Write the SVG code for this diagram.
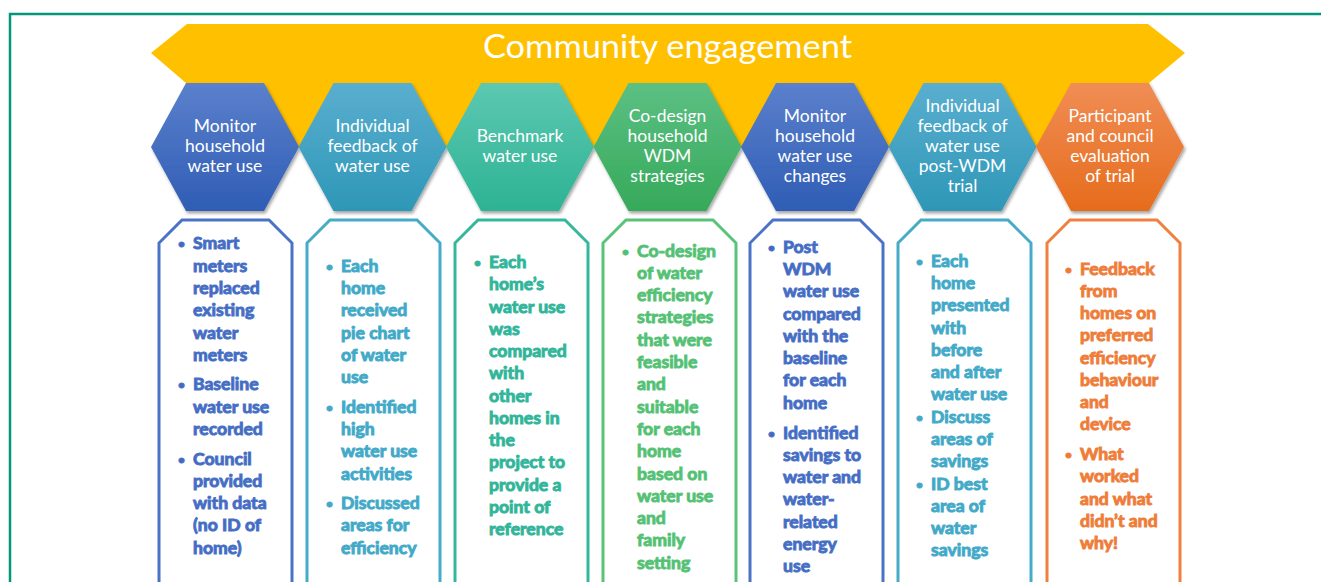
<svg xmlns="http://www.w3.org/2000/svg" width="1321" height="582" viewBox="0 0 1321 582">
  <defs>
    <linearGradient id="g-blue" x1="0" y1="0" x2="0" y2="1">
      <stop offset="0" stop-color="#5b80cc"/>
      <stop offset="1" stop-color="#2f5db5"/>
    </linearGradient>
    <linearGradient id="g-aqua" x1="0" y1="0" x2="0" y2="1">
      <stop offset="0" stop-color="#5aaecf"/>
      <stop offset="1" stop-color="#2e97b7"/>
    </linearGradient>
    <linearGradient id="g-teal" x1="0" y1="0" x2="0" y2="1">
      <stop offset="0" stop-color="#5dc8b2"/>
      <stop offset="1" stop-color="#2db393"/>
    </linearGradient>
    <linearGradient id="g-green" x1="0" y1="0" x2="0" y2="1">
      <stop offset="0" stop-color="#5cc083"/>
      <stop offset="1" stop-color="#36a95a"/>
    </linearGradient>
    <linearGradient id="g-orange" x1="0" y1="0" x2="0" y2="1">
      <stop offset="0" stop-color="#f08d55"/>
      <stop offset="1" stop-color="#e66c1c"/>
    </linearGradient>
    <filter id="shadow" x="-10%" y="-10%" width="125%" height="125%">
      <feDropShadow dx="1.5" dy="2.5" stdDeviation="1.6" flood-color="#000" flood-opacity="0.35"/>
    </filter>
    <!-- hexagon centred on (0,147) -->
    <polygon id="hex" points="-39,83 39,83 74,147 39,211 -39,211 -74,147"/>
    <!-- detail box, left edge at x=0, open at the bottom -->
    <path id="box" d="M0,600 V243 L23,220 H110 L133,243 V600"/>
  </defs>
  <style>
    .frame { fill: none; stroke: #00977a; stroke-width: 2.5; }
    .banner { fill: #ffc000; }
    .title { font-family: Lato, "Liberation Sans", sans-serif; font-size: 33px; fill: #ffffff; text-anchor: middle; }
    .hex { filter: url(#shadow); }
    .hex-text { font-family: Lato, "Liberation Sans", sans-serif; font-size: 17.5px; fill: #ffffff; text-anchor: middle; }
    .box { fill: #ffffff; stroke-width: 3; stroke-linejoin: miter; }
    .box-text { font-family: Lato, "Liberation Sans", sans-serif; font-weight: 700; font-size: 17.6px; }
    .bullet { font-size: 12px; }
    .blue { stroke: #4a72c6; fill: #4169c2; }
    .aqua { stroke: #45abc9; fill: #41a8c8; }
    .teal { stroke: #35b79d; fill: #2fb496; }
    .green { stroke: #5ac37a; fill: #4fc06d; }
    .orange { stroke: #ef8040; fill: #ee7b30; }
    use.box { fill: #ffffff; }
  </style>

  <rect width="1321" height="582" fill="#ffffff"/>
  <path class="frame" d="M10,582 V14 H1321"/>

  <!-- banner across the top -->
  <g id="banner">
    <polygon class="banner" points="151,53 187,24 1148,24 1185,53 1149,83 1149,147 186,147 186,83"/>
    <text class="title" x="667.5" y="57.5" textLength="369" lengthAdjust="spacingAndGlyphs">Community engagement</text>
  </g>

  <!-- stage hexagons -->
  <g id="hex-1">
    <use href="#hex" class="hex" x="225" fill="url(#g-blue)"/>
    <text class="hex-text"><tspan x="225" y="132">Monitor</tspan><tspan x="225" y="152">household</tspan><tspan x="225" y="172">water use</tspan></text>
  </g>
  <g id="hex-2">
    <use href="#hex" class="hex" x="372.5" fill="url(#g-aqua)"/>
    <text class="hex-text"><tspan x="372.5" y="132">Individual</tspan><tspan x="372.5" y="152">feedback of</tspan><tspan x="372.5" y="172">water use</tspan></text>
  </g>
  <g id="hex-3">
    <use href="#hex" class="hex" x="520" fill="url(#g-teal)"/>
    <text class="hex-text"><tspan x="520" y="142">Benchmark</tspan><tspan x="520" y="162">water use</tspan></text>
  </g>
  <g id="hex-4">
    <use href="#hex" class="hex" x="667.5" fill="url(#g-green)"/>
    <text class="hex-text"><tspan x="667.5" y="122">Co-design</tspan><tspan x="667.5" y="142">household</tspan><tspan x="667.5" y="162">WDM</tspan><tspan x="667.5" y="182">strategies</tspan></text>
  </g>
  <g id="hex-5">
    <use href="#hex" class="hex" x="815" fill="url(#g-blue)"/>
    <text class="hex-text"><tspan x="815" y="122">Monitor</tspan><tspan x="815" y="142">household</tspan><tspan x="815" y="162">water use</tspan><tspan x="815" y="182">changes</tspan></text>
  </g>
  <g id="hex-6">
    <use href="#hex" class="hex" x="962.5" fill="url(#g-aqua)"/>
    <text class="hex-text"><tspan x="962.5" y="112">Individual</tspan><tspan x="962.5" y="132">feedback of</tspan><tspan x="962.5" y="152">water use</tspan><tspan x="962.5" y="172">post-WDM</tspan><tspan x="962.5" y="192">trial</tspan></text>
  </g>
  <g id="hex-7">
    <use href="#hex" class="hex" x="1110" fill="url(#g-orange)"/>
    <text class="hex-text"><tspan x="1110" y="122">Participant</tspan><tspan x="1110" y="142">and council</tspan><tspan x="1110" y="162">evaluation</tspan><tspan x="1110" y="182">of trial</tspan></text>
  </g>

  <!-- detail boxes under each stage -->
  <g id="box-1">
    <use href="#box" class="box blue" x="159"/>
    <text class="box-text blue" stroke="none">
      <tspan class="bullet" x="178" y="248">•</tspan>
      <tspan x="193" y="249">Smart</tspan><tspan x="193" y="271.5">meters</tspan><tspan x="193" y="293.5">replaced</tspan><tspan x="193" y="316">existing</tspan><tspan x="193" y="338.5">water</tspan><tspan x="193" y="360.5">meters</tspan>
      <tspan class="bullet" x="178" y="389">•</tspan>
      <tspan x="193" y="390">Baseline</tspan><tspan x="193" y="412.5">water use</tspan><tspan x="193" y="434.5">recorded</tspan>
      <tspan class="bullet" x="178" y="463.5">•</tspan>
      <tspan x="193" y="464.5">Council</tspan><tspan x="193" y="486.5">provided</tspan><tspan x="193" y="509">with data</tspan><tspan x="193" y="531">(no ID of</tspan><tspan x="193" y="553.5">home)</tspan>
    </text>
  </g>
  <g id="box-2">
    <use href="#box" class="box aqua" x="307"/>
    <text class="box-text aqua" stroke="none">
      <tspan class="bullet" x="326" y="270.5">•</tspan>
      <tspan x="341" y="271.5">Each</tspan><tspan x="341" y="294">home</tspan><tspan x="341" y="316">received</tspan><tspan x="341" y="338.5">pie chart</tspan><tspan x="341" y="360.5">of water</tspan><tspan x="341" y="383">use</tspan>
      <tspan class="bullet" x="326" y="411.5">•</tspan>
      <tspan x="341" y="412.5">Identified</tspan><tspan x="341" y="434.5">high</tspan><tspan x="341" y="457">water use</tspan><tspan x="341" y="479.5">activities</tspan>
      <tspan class="bullet" x="326" y="508">•</tspan>
      <tspan x="341" y="509">Discussed</tspan><tspan x="341" y="531">areas for</tspan><tspan x="341" y="553.5">efficiency</tspan>
    </text>
  </g>
  <g id="box-3">
    <use href="#box" class="box teal" x="455"/>
    <text class="box-text teal" stroke="none">
      <tspan class="bullet" x="474" y="267">•</tspan>
      <tspan x="489" y="268">Each</tspan><tspan x="489" y="290">home’s</tspan><tspan x="489" y="312.5">water use</tspan><tspan x="489" y="334.5">was</tspan><tspan x="489" y="357">compared</tspan><tspan x="489" y="379">with</tspan><tspan x="489" y="401.5">other</tspan><tspan x="489" y="423.5">homes in</tspan><tspan x="489" y="446">the</tspan><tspan x="489" y="468">project to</tspan><tspan x="489" y="490.5">provide a</tspan><tspan x="489" y="512.5">point of</tspan><tspan x="489" y="534.5">reference</tspan>
    </text>
  </g>
  <g id="box-4">
    <use href="#box" class="box green" x="603"/>
    <text class="box-text green" stroke="none">
      <tspan class="bullet" x="622" y="255.5">•</tspan>
      <tspan x="637" y="256.5">Co-design</tspan><tspan x="637" y="278.8">of water</tspan><tspan x="637" y="301.1">efficiency</tspan><tspan x="637" y="323.4">strategies</tspan><tspan x="637" y="345.7">that were</tspan><tspan x="637" y="368">feasible</tspan><tspan x="637" y="390.3">and</tspan><tspan x="637" y="412.6">suitable</tspan><tspan x="637" y="434.9">for each</tspan><tspan x="637" y="457.2">home</tspan><tspan x="637" y="479.5">based on</tspan><tspan x="637" y="501.8">water use</tspan><tspan x="637" y="524.1">and</tspan><tspan x="637" y="546.4">family</tspan><tspan x="637" y="568.7">setting</tspan>
    </text>
  </g>
  <g id="box-5">
    <use href="#box" class="box blue" x="750"/>
    <text class="box-text blue" stroke="none">
      <tspan class="bullet" x="768" y="251.5">•</tspan>
      <tspan x="783" y="252.5">Post</tspan><tspan x="783" y="275">WDM</tspan><tspan x="783" y="297">water use</tspan><tspan x="783" y="319.5">compared</tspan><tspan x="783" y="341.5">with the</tspan><tspan x="783" y="364">baseline</tspan><tspan x="783" y="386">for each</tspan><tspan x="783" y="408.5">home</tspan>
      <tspan class="bullet" x="768" y="437.5">•</tspan>
      <tspan x="783" y="438.5">Identified</tspan><tspan x="783" y="460.5">savings to</tspan><tspan x="783" y="483">water and</tspan><tspan x="783" y="505">water-</tspan><tspan x="783" y="527.5">related</tspan><tspan x="783" y="549.5">energy</tspan><tspan x="783" y="572">use</tspan>
    </text>
  </g>
  <g id="box-6">
    <use href="#box" class="box aqua" x="898"/>
    <text class="box-text aqua" stroke="none">
      <tspan class="bullet" x="916" y="265.5">•</tspan>
      <tspan x="931" y="266.5">Each</tspan><tspan x="931" y="289">home</tspan><tspan x="931" y="311">presented</tspan><tspan x="931" y="333.5">with</tspan><tspan x="931" y="355.5">before</tspan><tspan x="931" y="378">and after</tspan><tspan x="931" y="400">water use</tspan>
      <tspan class="bullet" x="916" y="421.5">•</tspan>
      <tspan x="931" y="422.5">Discuss</tspan><tspan x="931" y="445">areas of</tspan><tspan x="931" y="467">savings</tspan>
      <tspan class="bullet" x="916" y="488.5">•</tspan>
      <tspan x="931" y="489.5">ID best</tspan><tspan x="931" y="511.5">area of</tspan><tspan x="931" y="534">water</tspan><tspan x="931" y="556">savings</tspan>
    </text>
  </g>
  <g id="box-7">
    <use href="#box" class="box orange" x="1047"/>
    <text class="box-text orange" stroke="none">
      <tspan class="bullet" x="1065" y="273.5">•</tspan>
      <tspan x="1080" y="274.5">Feedback</tspan><tspan x="1080" y="296.5">from</tspan><tspan x="1080" y="319">homes on</tspan><tspan x="1080" y="341">preferred</tspan><tspan x="1080" y="363.5">efficiency</tspan><tspan x="1080" y="385.5">behaviour</tspan><tspan x="1080" y="408">and</tspan><tspan x="1080" y="430">device</tspan>
      <tspan class="bullet" x="1065" y="459">•</tspan>
      <tspan x="1080" y="460">What</tspan><tspan x="1080" y="482">worked</tspan><tspan x="1080" y="504.5">and what</tspan><tspan x="1080" y="526.5">didn’t and</tspan><tspan x="1080" y="549">why!</tspan>
    </text>
  </g>
</svg>
